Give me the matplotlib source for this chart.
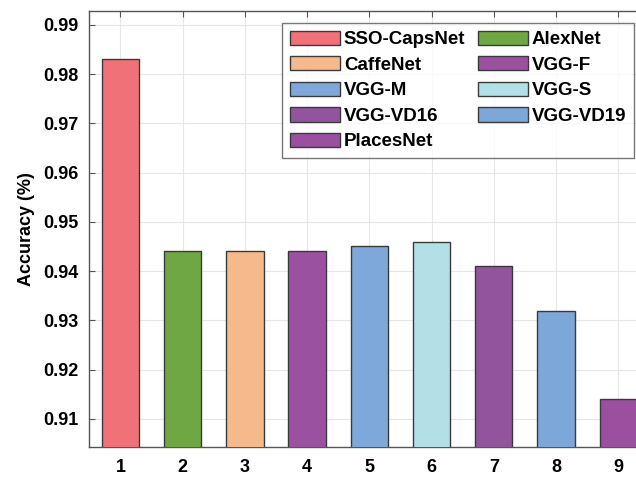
import matplotlib.pyplot as plt

plt.rcParams['font.family'] = ['Liberation Sans', 'DejaVu Sans']
plt.rcParams['font.weight'] = 'bold'

# Data
positions = [1, 2, 3, 4, 5, 6, 7, 8, 9]
accuracy = [0.983, 0.944, 0.944, 0.944, 0.945, 0.946, 0.941, 0.932, 0.914]
models = ["SSO-CapsNet", "AlexNet", "CaffeNet", "VGG-F", "VGG-M",
          "VGG-S", "VGG-VD16", "VGG-VD19", "PlacesNet"]
colors = ["#F07177", "#6FA843", "#F6B98B", "#9A52A0", "#7FA8DA",
          "#B2E0E6", "#92559D", "#7DA7D9", "#9B4F9F"]
yticks = [0.91, 0.92, 0.93, 0.94, 0.95, 0.96, 0.97, 0.98, 0.99]

fig = plt.figure(figsize=(6.36, 4.78), dpi=100)
ax = fig.add_axes([0.1405, 0.0649, 0.8805, 0.912])

handles = []
for x, y, c, name in zip(positions, accuracy, colors, models):
    h = ax.bar(x, y, width=0.6, color=c, edgecolor="#3a3a3a",
               linewidth=1.0, label=name, zorder=3)
    handles.append(h)

ax.set_xlim(0.5, 9.5)
ax.set_ylim(0.9043, 0.9928)
ax.set_xticks(positions)
ax.set_yticks(yticks)
ax.set_yticklabels([f"{t:.2f}" for t in yticks])
ax.tick_params(axis="both", direction="in", labelsize=13, top=True,
               right=False, length=4, color="#555555")
ax.tick_params(axis="x", pad=8.5)
ax.tick_params(axis="y", pad=8)
ax.set_ylabel("Accuracy (%)", fontsize=13, fontweight="bold", labelpad=6)
ax.grid(True, color="#e6e6e6", linewidth=0.8, zorder=0)
for s in ax.spines.values():
    s.set_color("#555555")
    s.set_linewidth(1.0)

# column-major ordering so rows read: SSO/AlexNet, CaffeNet/VGG-F, ...
order = [0, 2, 4, 6, 8, 1, 3, 5, 7]
leg = ax.legend([handles[i] for i in order], [models[i] for i in order],
                ncol=2, loc="upper right", bbox_to_anchor=(0.9725, 0.9725),
                borderaxespad=0, fontsize=13.5, frameon=True, fancybox=False,
                edgecolor="#555555", handlelength=2.7, handleheight=0.8,
                handletextpad=0.2, columnspacing=0.65, labelspacing=0.42,
                borderpad=0.4)
leg.get_frame().set_linewidth(1.0)

plt.savefig("out.png", dpi=100)
plt.close()
